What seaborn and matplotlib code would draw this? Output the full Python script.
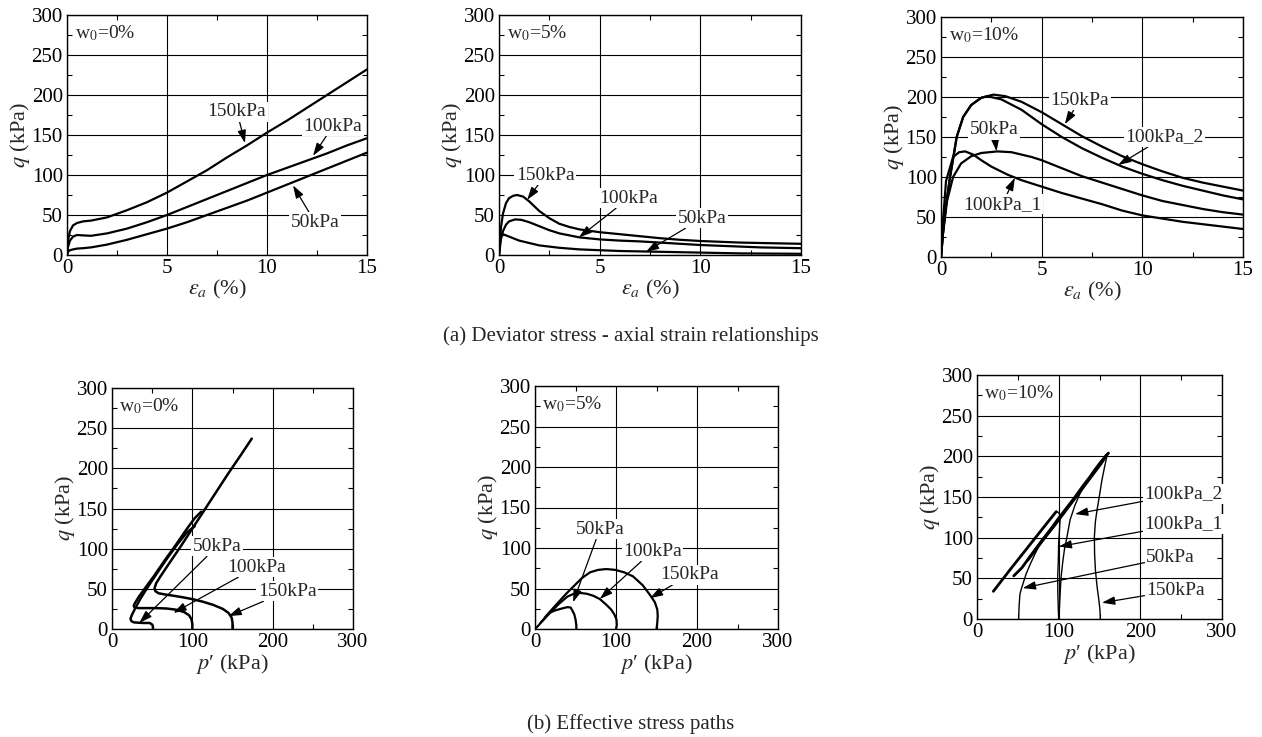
import matplotlib
matplotlib.use("Agg")
import matplotlib.pyplot as plt
from matplotlib.ticker import AutoMinorLocator, MultipleLocator
import numpy as np
import seaborn as sns

# ---------------- data: (a) deviator stress - axial strain ----------------
# w0 = 0 %
a0_eps_150 = [0, 0.05, 0.15, 0.3, 0.5, 0.8, 1.2, 2, 3, 4, 5, 6, 7, 8, 9, 10, 11, 12, 13, 14, 15]
a0_q_150 = [0, 18, 30, 37, 40, 42, 43, 47, 56, 66, 78, 92, 106, 122, 137, 153, 168, 184, 200, 216, 232]
a0_eps_100 = [0, 0.05, 0.15, 0.3, 0.5, 0.8, 1.2, 2, 3, 4, 5, 6, 7, 8, 9, 10, 11, 12, 13, 14, 15]
a0_q_100 = [0, 10, 18, 23, 25, 24.5, 24, 27, 33, 41, 50, 60, 70, 80, 90, 100, 109, 118, 127, 137, 146]
a0_eps_50 = [0, 0.05, 0.15, 0.3, 0.5, 0.8, 1.2, 2, 3, 4, 5, 6, 7, 8, 9, 10, 11, 12, 13, 14, 15]
a0_q_50 = [0, 4, 6, 7, 8, 8.5, 9.5, 13, 19, 26, 33, 41, 50, 59, 68, 78, 88, 98, 108, 118, 128]

# w0 = 5 %
a5_eps_150 = [0, 0.1, 0.2, 0.35, 0.5, 0.7, 0.9, 1.2, 1.5, 2, 2.5, 3, 3.5, 4, 5, 6, 7, 8, 9, 10, 11, 12, 13, 14, 15]
a5_q_150 = [0, 35, 52, 65, 71, 74, 75, 73, 67, 55, 46, 39, 35, 32, 28.5, 26, 23.5, 21, 19, 17.5, 16.5, 15.5, 15, 14.5, 14]
a5_eps_100 = [0, 0.1, 0.2, 0.35, 0.5, 0.8, 1.1, 1.5, 2, 2.5, 3, 4, 5, 6, 7, 8, 9, 10, 11, 12, 13, 14, 15]
a5_q_100 = [0, 20, 30, 38, 42, 44.5, 44, 41, 36, 31, 27, 22, 19.5, 18, 17, 15.5, 14, 12.5, 11.5, 10.5, 9.5, 9, 8.5]
a5_eps_50 = [0, 0.05, 0.1, 0.3, 0.6, 1, 1.5, 2, 3, 4, 5, 6, 7, 8, 9, 10, 12, 15]
a5_q_50 = [0, 20, 27, 25, 22, 18, 15, 12, 9, 7, 6, 5, 4.5, 4, 3.5, 3, 2, 1.5]

# w0 = 10 %
a10_eps_150 = [0, 0.1, 0.25, 0.45, 0.78, 1.1, 1.5, 2, 2.6, 3.2, 4, 5, 6, 7, 8, 9, 10, 11, 12, 13, 14, 15]
a10_q_150 = [0, 30, 65, 100, 150, 175, 190, 199, 203, 201, 194, 181, 166, 151, 138, 126, 116, 107, 99, 93, 88, 83]
a10_eps_100b = [0, 0.1, 0.25, 0.45, 0.78, 1.1, 1.5, 2, 2.3, 3, 4, 5, 6, 7, 8, 9, 10, 11, 12, 13, 14, 15]
a10_q_100b = [0, 30, 65, 100, 150, 175, 190, 199, 201, 197, 184, 166, 150, 136, 124, 113, 104, 96, 89, 83, 77, 72]
a10_eps_50 = [0, 0.1, 0.3, 0.6, 1, 1.5, 2, 2.8, 3.5, 4.5, 5, 6, 7, 8, 9, 10, 11, 12, 13, 14, 15]
a10_q_50 = [0, 30, 70, 100, 117, 126, 130, 132, 131, 125, 121, 111, 101, 93, 85, 77, 70, 65, 60, 56, 53]
a10_eps_100a = [0, 0.1, 0.25, 0.6, 0.9, 1.2, 1.6, 2, 2.5, 3.3, 4, 5, 6, 7, 8, 9, 10, 11, 12, 13, 14, 15]
a10_q_100a = [0, 45, 95, 125, 131, 132, 128, 121, 113, 103, 96, 88, 80, 73, 66, 58, 52, 48, 44, 41, 38, 35]

# ---------------- data: (b) effective stress paths ----------------
# w0 = 0 %
b0_p_150 = [150, 150, 149, 145, 138, 126, 113, 101, 88, 76, 66, 58, 54, 53, 55, 60, 70, 85, 100, 115, 130, 145, 160, 174]
b0_q_150 = [0, 8, 14, 20, 25, 30, 34, 37, 39.5, 41.5, 43, 44.5, 47, 51, 57, 65, 80, 102, 125, 148, 171, 194, 216, 237]
b0_p_100 = [100, 100, 99, 96, 90, 80, 68, 55, 42, 33, 28, 27, 29, 34, 42, 53, 66, 79, 92, 103, 111]
b0_q_100 = [0, 6, 12, 17, 21, 24, 25.5, 26, 26, 26, 27, 29, 33, 41, 52, 67, 86, 104, 123, 138, 146]
b0_p_50 = [51, 51, 50, 47, 40, 33, 27, 24, 23, 25, 29, 35, 43, 55, 68, 81, 93, 103]
b0_q_50 = [0, 3, 5.5, 7.5, 7.5, 7.8, 8.3, 10, 13, 18, 26, 37, 50, 68, 87, 105, 120, 128]

# w0 = 5 %
b5_p_150 = [150, 151, 151.5, 151, 148, 142, 133, 121, 110, 99, 88, 78, 68, 58, 48, 38, 28, 18, 12]
b5_q_150 = [0, 8, 16, 24, 33, 42, 54, 65, 70, 73, 74, 73, 70, 63, 53, 43, 32, 21, 14]
b5_p_100 = [100, 101, 100.5, 98, 94, 88, 80, 72, 64, 56, 48, 40, 30, 20, 12, 7]
b5_q_100 = [0, 5, 12, 18, 24, 30, 37, 41, 43.5, 44.5, 43.5, 40, 31.5, 21.5, 13, 8]
b5_p_50 = [51, 51, 50, 48.5, 46, 44, 40, 34, 25, 18, 10, 4, 1.5]
b5_q_50 = [0, 5, 12, 18, 23, 26.5, 27, 25.5, 23, 20, 11, 4, 1.5]

# w0 = 10 %
b10_p_150 = [151, 150.5, 149, 147, 145, 144, 143.7, 145, 147, 150, 153, 156, 159, 161,
             158, 150, 140, 130, 120, 110, 100, 90, 80, 70]
b10_q_150 = [0, 12, 25, 40, 60, 80, 101, 120, 134, 152, 171, 186, 200, 204,
             201, 191, 177, 164, 150, 137, 124, 110, 97, 83]
b10_p_100b = [100, 101, 102, 103, 105, 107, 110, 114, 120, 126.5, 135, 143, 151, 159,
              152, 140, 125, 110, 95, 80, 62]
b10_q_100b = [0, 15, 35, 52, 70, 85, 100, 122, 140, 155, 170, 183, 193, 202,
              191, 175, 155, 135, 115, 96, 72]
b10_p_100a = [100, 99.5, 99, 98.8, 99.5, 100, 101, 102, 100, 97,
              85, 70, 55, 40, 30, 20]
b10_q_100a = [0, 15, 30, 52, 70, 93, 110, 126, 131, 132,
              117, 98, 79, 60, 47, 34]
b10_p_50 = [51, 51.5, 52.5, 54, 56.5, 60, 65, 71, 77.5, 85, 94, 102, 107,
            95, 80, 65, 55, 45]
b10_q_50 = [0, 15, 30, 36, 44, 55, 67, 80, 93, 104, 115, 125, 132,
            116, 97, 77, 63, 53]

# ---------------- styling ----------------
sns.set_theme(style="ticks")
plt.rcParams["font.family"] = ["Liberation Serif", "DejaVu Serif"]
plt.rcParams["mathtext.fontset"] = "stix"
plt.rcParams["axes.unicode_minus"] = False

W, H = 1262, 737
fig = plt.figure(figsize=(W / 100, H / 100), dpi=100)
fig.patch.set_facecolor("white")

TICK_FS = 15
LAB_FS = 16
ANN_FS = 14
TAG_FS = 14
CAP_FS = 15


def make_axes(left, top, right, bottom):
    return fig.add_axes([left / W, 1 - bottom / H, (right - left) / W, (bottom - top) / H])


def style(ax, xmax, xstep, xlabel, tag):
    ax.set_facecolor("white")
    ax.set_xlim(0, xmax)
    ax.set_ylim(0, 300)
    ax.xaxis.set_major_locator(MultipleLocator(xstep))
    ax.yaxis.set_major_locator(MultipleLocator(50))
    ax.xaxis.set_minor_locator(AutoMinorLocator(2))
    ax.yaxis.set_minor_locator(AutoMinorLocator(2))
    ax.grid(True, which="major", color="black", lw=0.8)
    ax.set_axisbelow(True)
    ax.tick_params(which="both", direction="in", top=True, right=True,
                   labelsize=TICK_FS, colors="black")
    ax.tick_params(which="major", length=0, pad=3)
    ax.tick_params(which="minor", length=3.5, width=0.8)
    for s in ax.spines.values():
        s.set_color("black")
        s.set_linewidth(1.0)
    ax.set_xlabel(xlabel, fontsize=LAB_FS, labelpad=0)
    ax.set_ylabel("$q$ (kPa)", fontsize=LAB_FS, labelpad=0)
    ax.text(0.027, 0.925, tag, transform=ax.transAxes, fontsize=TAG_FS,
            ha="left", va="center")


def curve(ax, x, y, lw=1.6):
    sns.lineplot(x=x, y=y, sort=False, estimator=None, color="black",
                 lw=lw, ax=ax, legend=False)


def split_curve(ax, x, y, lw_rise=1.0, lw_soft=2.0):
    k = int(np.argmax(y))
    curve(ax, x[:k + 1], y[:k + 1], lw_rise)
    curve(ax, x[k:], y[k:], lw_soft)


def label(ax, text, xy, xytext):
    ax.annotate(text, xy=xy, xytext=xytext, ha="center", va="center",
                fontsize=ANN_FS, zorder=6, annotation_clip=False,
                bbox=dict(boxstyle="square,pad=0.08", fc="white", ec="none"),
                arrowprops=dict(arrowstyle="-|>,head_length=0.55,head_width=0.18",
                                color="black", lw=0.9, shrinkA=0, shrinkB=0))


EPS = r"$\varepsilon_a$ (%)"
PP = "$p$\u2032 (kPa)"

# ---- (a) w0 = 0 %
ax1 = make_axes(67, 15, 367, 255)
style(ax1, 15, 5, EPS, "w$_0$=0%")
curve(ax1, a0_eps_150, a0_q_150)
curve(ax1, a0_eps_100, a0_q_100)
curve(ax1, a0_eps_50, a0_q_50)
label(ax1, "150kPa", (8.9, 140), (8.5, 179))
label(ax1, "100kPa", (12.3, 124), (13.3, 161))
label(ax1, "50kPa", (11.3, 87), (12.4, 41))

# ---- (a) w0 = 5 %
ax2 = make_axes(499, 15, 801, 255)
style(ax2, 15, 5, EPS, "w$_0$=5%")
curve(ax2, a5_eps_150, a5_q_150)
curve(ax2, a5_eps_100, a5_q_100)
curve(ax2, a5_eps_50, a5_q_50)
label(ax2, "150kPa", (1.4, 69), (2.3, 100))
label(ax2, "100kPa", (3.97, 22), (6.45, 71))
label(ax2, "50kPa", (7.3, 4), (10.1, 46))

# ---- (a) w0 = 10 %
ax3 = make_axes(941, 17, 1243, 257)
style(ax3, 15, 5, EPS, "w$_0$=10%")
curve(ax3, a10_eps_150, a10_q_150)
curve(ax3, a10_eps_100b, a10_q_100b)
curve(ax3, a10_eps_50, a10_q_50)
curve(ax3, a10_eps_100a, a10_q_100a)
label(ax3, "150kPa", (6.15, 166), (6.9, 196))
label(ax3, "100kPa_2", (8.8, 115), (11.1, 150))
label(ax3, "50kPa", (2.76, 132), (2.63, 159))
label(ax3, "100kPa_1", (3.67, 99), (3.04, 66))

# ---- (b) w0 = 0 %
ax4 = make_axes(112, 388, 353, 629)
style(ax4, 300, 100, PP, "w$_0$=0%")
curve(ax4, b0_p_150, b0_q_150, 1.8)
curve(ax4, b0_p_100, b0_q_100, 1.8)
curve(ax4, b0_p_50, b0_q_50, 1.8)
label(ax4, "50kPa", (34, 7.5), (131, 103))
label(ax4, "100kPa", (76.5, 20), (180, 77))
label(ax4, "150kPa", (145, 16), (218, 47))

# ---- (b) w0 = 5 %
ax5 = make_axes(535, 386, 778, 629)
style(ax5, 300, 100, PP, "w$_0$=5%")
curve(ax5, b5_p_150, b5_q_150, 1.6)
curve(ax5, b5_p_100, b5_q_100, 1.6)
curve(ax5, b5_p_50, b5_q_50, 1.6)
label(ax5, "50kPa", (47, 33), (80, 123))
label(ax5, "100kPa", (80, 37), (145, 96))
label(ax5, "150kPa", (142, 38), (191, 67))

# ---- (b) w0 = 10 %
ax6 = make_axes(977, 375, 1222, 619)
style(ax6, 300, 100, PP, "w$_0$=10%")
split_curve(ax6, b10_p_150, b10_q_150)
split_curve(ax6, b10_p_100b, b10_q_100b)
split_curve(ax6, b10_p_100a, b10_q_100a)
split_curve(ax6, b10_p_50, b10_q_50)
label(ax6, "100kPa_2", (120, 129), (253, 154))
label(ax6, "100kPa_1", (100, 89), (253, 117))
label(ax6, "50kPa", (56, 38), (237, 76))
label(ax6, "150kPa", (153, 20), (243, 35))

# ---- captions
fig.text(0.5, 1 - 326 / H, "(a) Deviator stress - axial strain relationships",
         ha="center", va="top", fontsize=CAP_FS)
fig.text(0.5, 1 - 714 / H, "(b) Effective stress paths",
         ha="center", va="top", fontsize=CAP_FS)

fig.savefig("out.png", dpi=100, facecolor="white")
